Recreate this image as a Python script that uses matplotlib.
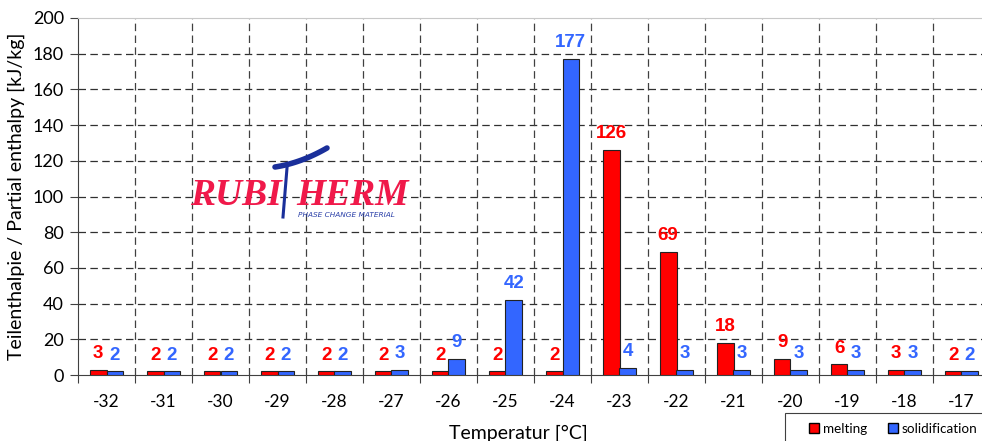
import numpy as np
import matplotlib
matplotlib.use('Agg')
import matplotlib.pyplot as plt
from matplotlib.patches import Patch, Rectangle

temps = ['-32', '-31', '-30', '-29', '-28', '-27', '-26', '-25',
         '-24', '-23', '-22', '-21', '-20', '-19', '-18', '-17']
melting = [3, 2, 2, 2, 2, 2, 2, 2, 2, 126, 69, 18, 9, 6, 3, 2]
solidification = [2, 2, 2, 2, 2, 3, 9, 42, 177, 4, 3, 3, 3, 3, 3, 2]
yticks = [0, 20, 40, 60, 80, 100, 120, 140, 160, 180, 200]

red = '#ff0000'
blue = '#3366ff'
plt.rcParams['font.family'] = ['Lato', 'DejaVu Sans']

fig = plt.figure(figsize=(9.82, 4.41), dpi=100)
# axes runs a bit past the right edge like in the original screenshot
ax = fig.add_axes([78/982, 1-375/441, 912/982, 357/441])

x = np.arange(len(temps))
w = 0.29
ax.bar(x - w/2, melting, w, color=red, edgecolor='#222222', linewidth=0.8, zorder=3)
ax.bar(x + w/2, solidification, w, color=blue, edgecolor='#222222', linewidth=0.8, zorder=3)

for i in range(len(temps)):
    ax.annotate(str(melting[i]), (x[i] - w/2, melting[i]), xytext=(0, 5.5),
                textcoords='offset points', color=red, fontsize=13.5, fontweight='bold',
                family='Liberation Sans', ha='center', va='bottom', zorder=4)
    ax.annotate(str(solidification[i]), (x[i] + w/2, solidification[i]), xytext=(0, 5.5),
                textcoords='offset points', color=blue, fontsize=13.5, fontweight='bold',
                family='Liberation Sans', ha='center', va='bottom', zorder=4)

ax.set_xlim(-0.5, len(temps) - 0.5)
ax.set_ylim(0, 200)
ax.set_yticks(yticks)
ax.set_xticks(np.arange(len(temps) + 1) - 0.5)
ax.set_xticklabels([])
ax.set_xticks(x, minor=True)
ax.set_xticklabels(temps, minor=True)
ax.tick_params(axis='x', which='major', length=6, direction='out', color='#404040')
ax.tick_params(axis='x', which='minor', length=0, pad=14, labelsize=12.5)
ax.tick_params(axis='y', length=6, color='#404040', labelsize=13, pad=4)

for yv in yticks[1:-1]:
    ax.axhline(yv, color='#303030', linestyle=(0, (6, 3.5)), linewidth=0.9, zorder=1)
for xv in np.arange(len(temps)) + 0.5:
    ax.axvline(xv, color='#404040', linestyle=(0, (6, 3.5)), linewidth=0.9, zorder=1)

ax.spines['left'].set_color('#404040')
ax.spines['bottom'].set_color('#404040')
ax.spines['top'].set_color('#c8c8c8')
ax.spines['right'].set_visible(False)

ax.set_ylabel('Teilenthalpie / Partial enthalpy [kJ/kg]', fontsize=14, labelpad=6)
fig.text(518/982, 1-433/441, 'Temperatur [°C]', fontsize=14, ha='center', va='center')

# logo
fig.text(190/982, 1-205/441, 'RUBI', color='#f0194a', fontsize=27, fontweight='bold',
         fontstyle='italic', family='Liberation Serif', ha='left', va='baseline')
fig.text(296/982, 1-205/441, 'HERM', color='#f0194a', fontsize=27, fontweight='bold',
         fontstyle='italic', family='Liberation Serif', ha='left', va='baseline')
fig.text(298/982, 1-217/441, 'PHASE CHANGE MATERIAL', color='#2a3fa8', fontsize=5.3,
         fontstyle='italic', family='DejaVu Sans', ha='left', va='baseline')
fig.add_artist(plt.Line2D([287/982, 283/982], [1-168/441, 1-217/441], color='#1a2f9a',
                          linewidth=2.2, transform=fig.transFigure))
t = np.linspace(0, 1, 30)
sx = 275 + 52*t
sy = 167 - 8*t - 11*t**2
fig.add_artist(plt.Line2D(sx/982, 1-sy/441, color='#1a2f9a', linewidth=4,
                          solid_capstyle='round', transform=fig.transFigure))

# legend box is cut by the figure edge in the original
fig.add_artist(Rectangle((785/982, -0.05), 0.3, 0.05 + (441-413)/441, transform=fig.transFigure,
                         facecolor='white', edgecolor='#404040', linewidth=0.8))
handles = [Patch(facecolor=red, edgecolor='black', label='melting'),
           Patch(facecolor=blue, edgecolor='black', label='solidification')]
leg = fig.legend(handles=handles, loc='center left', bbox_to_anchor=(809/982, 1-429/441),
                 ncol=2, fontsize=9.7, frameon=False,
                 handlelength=0.75, handleheight=0.75, handletextpad=0.3, columnspacing=1.5,
                 borderpad=0, borderaxespad=0)

fig.savefig('out.png', dpi=100)
